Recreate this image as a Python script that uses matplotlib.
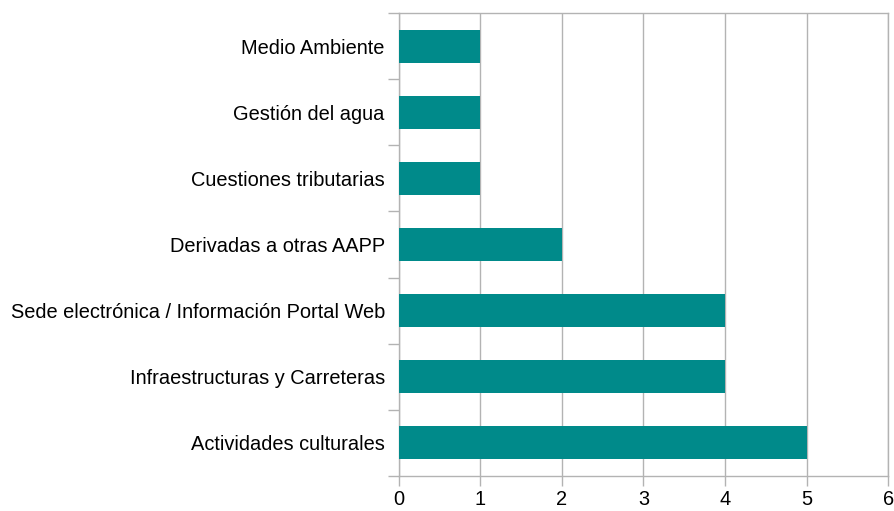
import matplotlib
matplotlib.use("Agg")
import matplotlib.pyplot as plt
import numpy as np

categories = ["Medio Ambiente", "Gestión del agua", "Cuestiones tributarias",
              "Derivadas a otras AAPP", "Sede electrónica / Información Portal Web",
              "Infraestructuras y Carreteras", "Actividades culturales"]
values = [1, 1, 1, 2, 4, 4, 5]
xticks = [0, 1, 2, 3, 4, 5, 6]

plt.rcParams['font.family'] = ['Liberation Sans', 'DejaVu Sans']
gray = '#b3b3b3'
bar_color = '#008a8a'

fig = plt.figure(figsize=(8.95, 5.11), dpi=100)
ax = fig.add_axes([398.7/895, 1-476/511, (888.3-398.7)/895, (476-13)/511])

n = len(categories)
ypos = np.arange(n)[::-1]
ax.barh(ypos, values, height=0.5, color=bar_color, zorder=3)

fs = 14.4
ax.set_xlim(0, 6)
ax.set_ylim(-0.5, n-0.5)
ax.set_xticks(xticks)
ax.set_xticklabels([str(t) for t in xticks], fontsize=fs)
ax.set_yticks(ypos)
ax.set_yticklabels(categories, fontsize=fs)
ax.set_yticks(np.arange(-0.5, n, 1.0), minor=True)
ax.tick_params(axis='y', which='major', length=0, pad=10)
ax.tick_params(axis='y', which='minor', length=8, color=gray, width=1)
ax.tick_params(axis='x', which='major', length=7, color=gray, width=1, pad=3)
ax.xaxis.grid(True, color=gray, linewidth=1, zorder=0)
ax.set_axisbelow(True)
for s in ax.spines.values():
    s.set_color(gray)
    s.set_linewidth(1)

fig.savefig("out.png", dpi=100)
